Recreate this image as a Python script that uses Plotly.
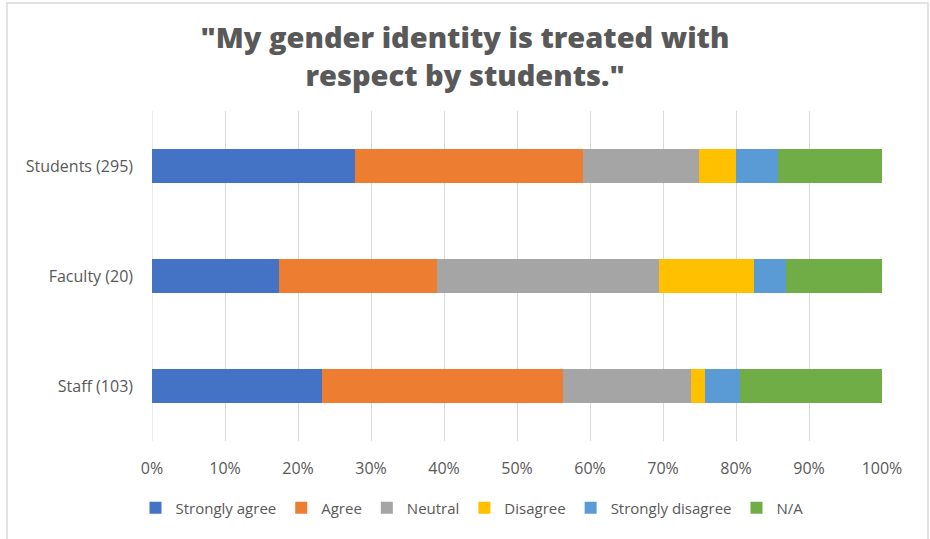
import plotly.graph_objects as go

groups = ["Students (295)", "Faculty (20)", "Staff (103)"]
series_names = ["Strongly agree", "Agree", "Neutral", "Disagree", "Strongly disagree", "N/A"]
strongly_agree = [27.8, 17.4, 23.3]
agree = [31.2, 21.7, 33.0]
neutral = [15.9, 30.4, 17.5]
disagree = [5.1, 13.0, 1.9]
strongly_disagree = [5.8, 4.3, 4.9]
na = [14.2, 13.2, 19.4]
colors = ["#4472C4", "#ED7D31", "#A5A5A5", "#FFC000", "#5B9BD5", "#70AD47"]
x_ticks = [0, 10, 20, 30, 40, 50, 60, 70, 80, 90, 100]
x_tick_labels = [f"{t}%" for t in x_ticks]

values = [strongly_agree, agree, neutral, disagree, strongly_disagree, na]

fig = go.Figure()
for name, vals, col in zip(series_names, values, colors):
    fig.add_trace(go.Bar(
        y=groups, x=vals, name=name, orientation="h",
        marker=dict(color=col, line=dict(width=0)),
    ))

W, H = 930, 539
L, R, T, B = 152, 48, 111, 98
pw, ph = W - L - R, H - T - B

def px(x):
    return (x - L) / pw

def py(y):
    return 1 - (y - T) / ph

fig.update_layout(
    width=W, height=H,
    barmode="stack",
    bargap=0.69,
    margin=dict(l=L, r=R, t=T, b=B),
    paper_bgcolor="white",
    plot_bgcolor="white",
    font=dict(family="Open Sans, Liberation Sans, sans-serif", size=16, color="#595959"),
    title=dict(
        text='"My gender identity is treated with<br>respect by students."',
        x=0.5, xref="container", xanchor="center",
        y=1 - 48 / H, yref="container", yanchor="middle",
        font=dict(family="Open Sans, sans-serif", size=29, color="#595959", weight=800),
    ),
    xaxis=dict(
        range=[0, 100], tickvals=x_ticks, ticktext=x_tick_labels,
        showgrid=True, gridcolor="#D9D9D9", gridwidth=1,
        zeroline=False, showline=False, ticks="",
        ticklabelstandoff=16,
        tickfont=dict(size=16, color="#595959"),
        fixedrange=True,
    ),
    yaxis=dict(
        categoryorder="array", categoryarray=list(reversed(groups)),
        showgrid=False, zeroline=False, showline=False, ticks="",
        ticklabelstandoff=18,
        tickfont=dict(size=16, color="#595959"),
    ),
    legend=dict(
        orientation="h", x=px(472), xanchor="center",
        y=py(508), yanchor="middle",
        font=dict(size=15, color="#595959"),
        traceorder="normal",
        itemwidth=30,
    ),
    showlegend=True,
    shapes=[
        dict(type="line", xref="x", yref="paper", x0=0, x1=0, y0=0, y1=1,
             line=dict(color="#D9D9D9", width=1), layer="below"),
        dict(type="rect", xref="paper", yref="paper",
             x0=px(7), x1=px(928), y0=py(3), y1=py(560),
             line=dict(color="#D9D9D9", width=1.5), fillcolor="rgba(0,0,0,0)"),
    ],
)

fig.write_html("out.html", config={"displayModeBar": False},
               post_script="document.body.style.margin='0';")
